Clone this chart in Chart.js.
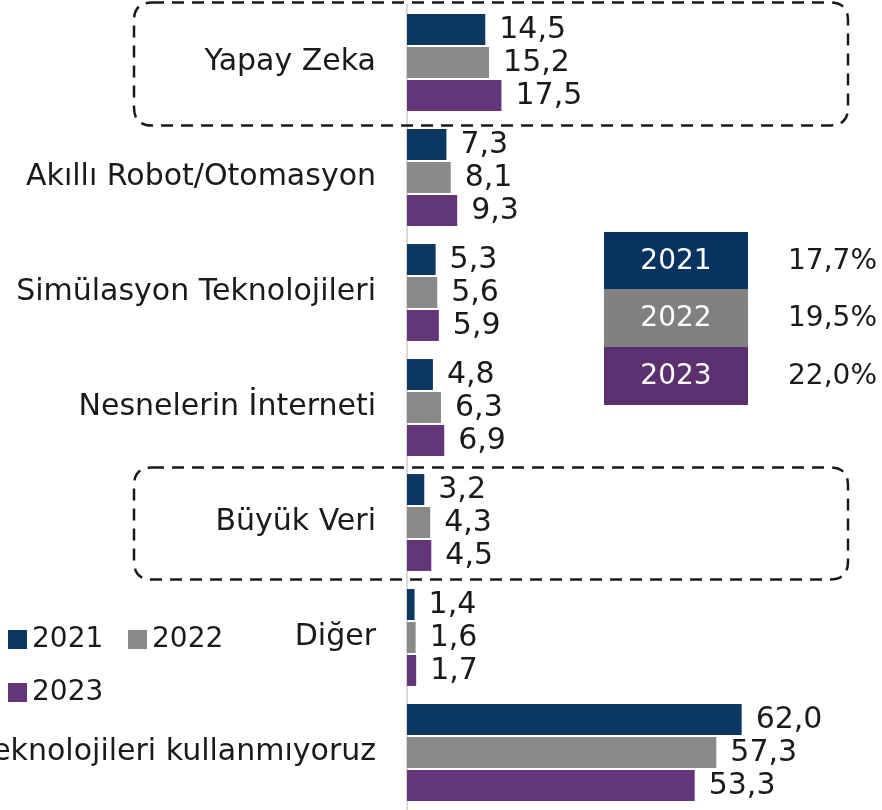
<!DOCTYPE html>
<html>
<head>
<meta charset="utf-8">
<script src="https://cdn.jsdelivr.net/npm/chart.js@4.4.1/dist/chart.umd.min.js"></script>
<style>
    html, body { margin: 0; padding: 0; background: #fff; }
    canvas { display: block; }
</style>
</head>
<body>
<canvas id="chart" width="882" height="810"></canvas>
<script>
const categories = ['Yapay Zeka', 'Akıllı Robot/Otomasyon', 'Simülasyon Teknolojileri', 'Nesnelerin İnterneti', 'Büyük Veri', 'Diğer', 'Teknolojileri kullanmıyoruz'];
const years = ['2021', '2022', '2023'];
const values2021 = [14.5, 7.3, 5.3, 4.8, 3.2, 1.4, 62.0];
const values2022 = [15.2, 8.1, 5.6, 6.3, 4.3, 1.6, 57.3];
const values2023 = [17.5, 9.3, 5.9, 6.9, 4.5, 1.7, 53.3];
const summaryRates = ['17,7%', '19,5%', '22,0%'];
const highlighted = ['Yapay Zeka', 'Büyük Veri'];

const barColors = ['#0b3761', '#8a8a8a', '#63367c'];
const cellColors = ['#063360', '#808080', '#5b2f70'];
const FONT = '"DejaVu Sans", sans-serif';
const textColor = '#1a1a1a';

function fmt(v) {
    return v.toFixed(1).replace('.', ',');
}

function roundedRect(ctx, x, y, w, h, r) {
    ctx.beginPath();
    ctx.moveTo(x + r, y);
    ctx.lineTo(x + w - r, y);
    ctx.quadraticCurveTo(x + w, y, x + w, y + r);
    ctx.lineTo(x + w, y + h - r);
    ctx.quadraticCurveTo(x + w, y + h, x + w - r, y + h);
    ctx.lineTo(x + r, y + h);
    ctx.quadraticCurveTo(x, y + h, x, y + h - r);
    ctx.lineTo(x, y + r);
    ctx.quadraticCurveTo(x, y, x + r, y);
    ctx.closePath();
}

// values, dashed boxes, legend and the small table
const extras = {
    id: 'extras',
    afterDraw(chart) {
        const ctx = chart.ctx;
        const yScale = chart.scales.y;

        ctx.save();
        ctx.fillStyle = textColor;
        ctx.font = '30px ' + FONT;
        ctx.textAlign = 'left';
        ctx.textBaseline = 'middle';
        chart.data.datasets.forEach((ds, i) => {
            chart.getDatasetMeta(i).data.forEach((bar, j) => {
                ctx.fillText(fmt(ds.data[j]), bar.x + 14, bar.y + 1);
            });
        });

        // dashed boxes
        ctx.strokeStyle = textColor;
        ctx.lineWidth = 2.5;
        ctx.setLineDash([12, 8]);
        highlighted.forEach((name, k) => {
            const cy = yScale.getPixelForValue(categories.indexOf(name));
            const top = k === 0 ? cy - 60 : cy - 55;
            const bottom = k === 0 ? cy + 63 : cy + 57;
            roundedRect(ctx, 134, top, 714, bottom - top, 18);
            ctx.stroke();
        });
        ctx.setLineDash([]);

        // legend
        const legendPos = [[8, 639], [128, 639], [8, 692]];
        ctx.font = '28px ' + FONT;
        years.forEach((y, i) => {
            const p = legendPos[i];
            ctx.fillStyle = barColors[i];
            ctx.fillRect(p[0], p[1] - 9, 19, 19);
            ctx.fillStyle = textColor;
            ctx.fillText(y, p[0] + 24, p[1] + 1);
        });

        // table
        const rowTops = [232, 289, 347, 405];
        years.forEach((y, i) => {
            const t = rowTops[i], b = rowTops[i + 1];
            ctx.fillStyle = cellColors[i];
            ctx.fillRect(604, t, 144, b - t);
            ctx.fillStyle = '#ffffff';
            ctx.textAlign = 'center';
            ctx.fillText(y, 676, (t + b) / 2 + 1);
            ctx.fillStyle = textColor;
            ctx.textAlign = 'right';
            ctx.fillText(summaryRates[i], 877, (t + b) / 2 + 1);
        });
        ctx.restore();
    }
};

new Chart(document.getElementById('chart'), {
    type: 'bar',
    data: {
        labels: categories,
        datasets: [
            { label: years[0], data: values2021, backgroundColor: barColors[0] },
            { label: years[1], data: values2022, backgroundColor: barColors[1] },
            { label: years[2], data: values2023, backgroundColor: barColors[2] }
        ]
    },
    options: {
        indexAxis: 'y',
        responsive: false,
        animation: false,
        devicePixelRatio: 1,
        layout: { padding: { top: 5, right: 0, bottom: 0, left: 0 } },
        datasets: {
            bar: { categoryPercentage: 0.86, barPercentage: 0.94 }
        },
        plugins: {
            legend: { display: false },
            tooltip: { enabled: false }
        },
        scales: {
            x: { display: false, min: 0, max: 88 },
            y: {
                grid: { display: false },
                border: { color: '#d9d9d9', width: 2 },
                ticks: {
                    autoSkip: false,
                    color: textColor,
                    font: { family: FONT, size: 30 },
                    padding: 23
                },
                afterFit(scale) {
                    scale.width = 407;
                    scale.paddingTop = 0;
                    scale.paddingBottom = 0;
                }
            }
        }
    },
    plugins: [extras]
});
</script>
</body>
</html>
